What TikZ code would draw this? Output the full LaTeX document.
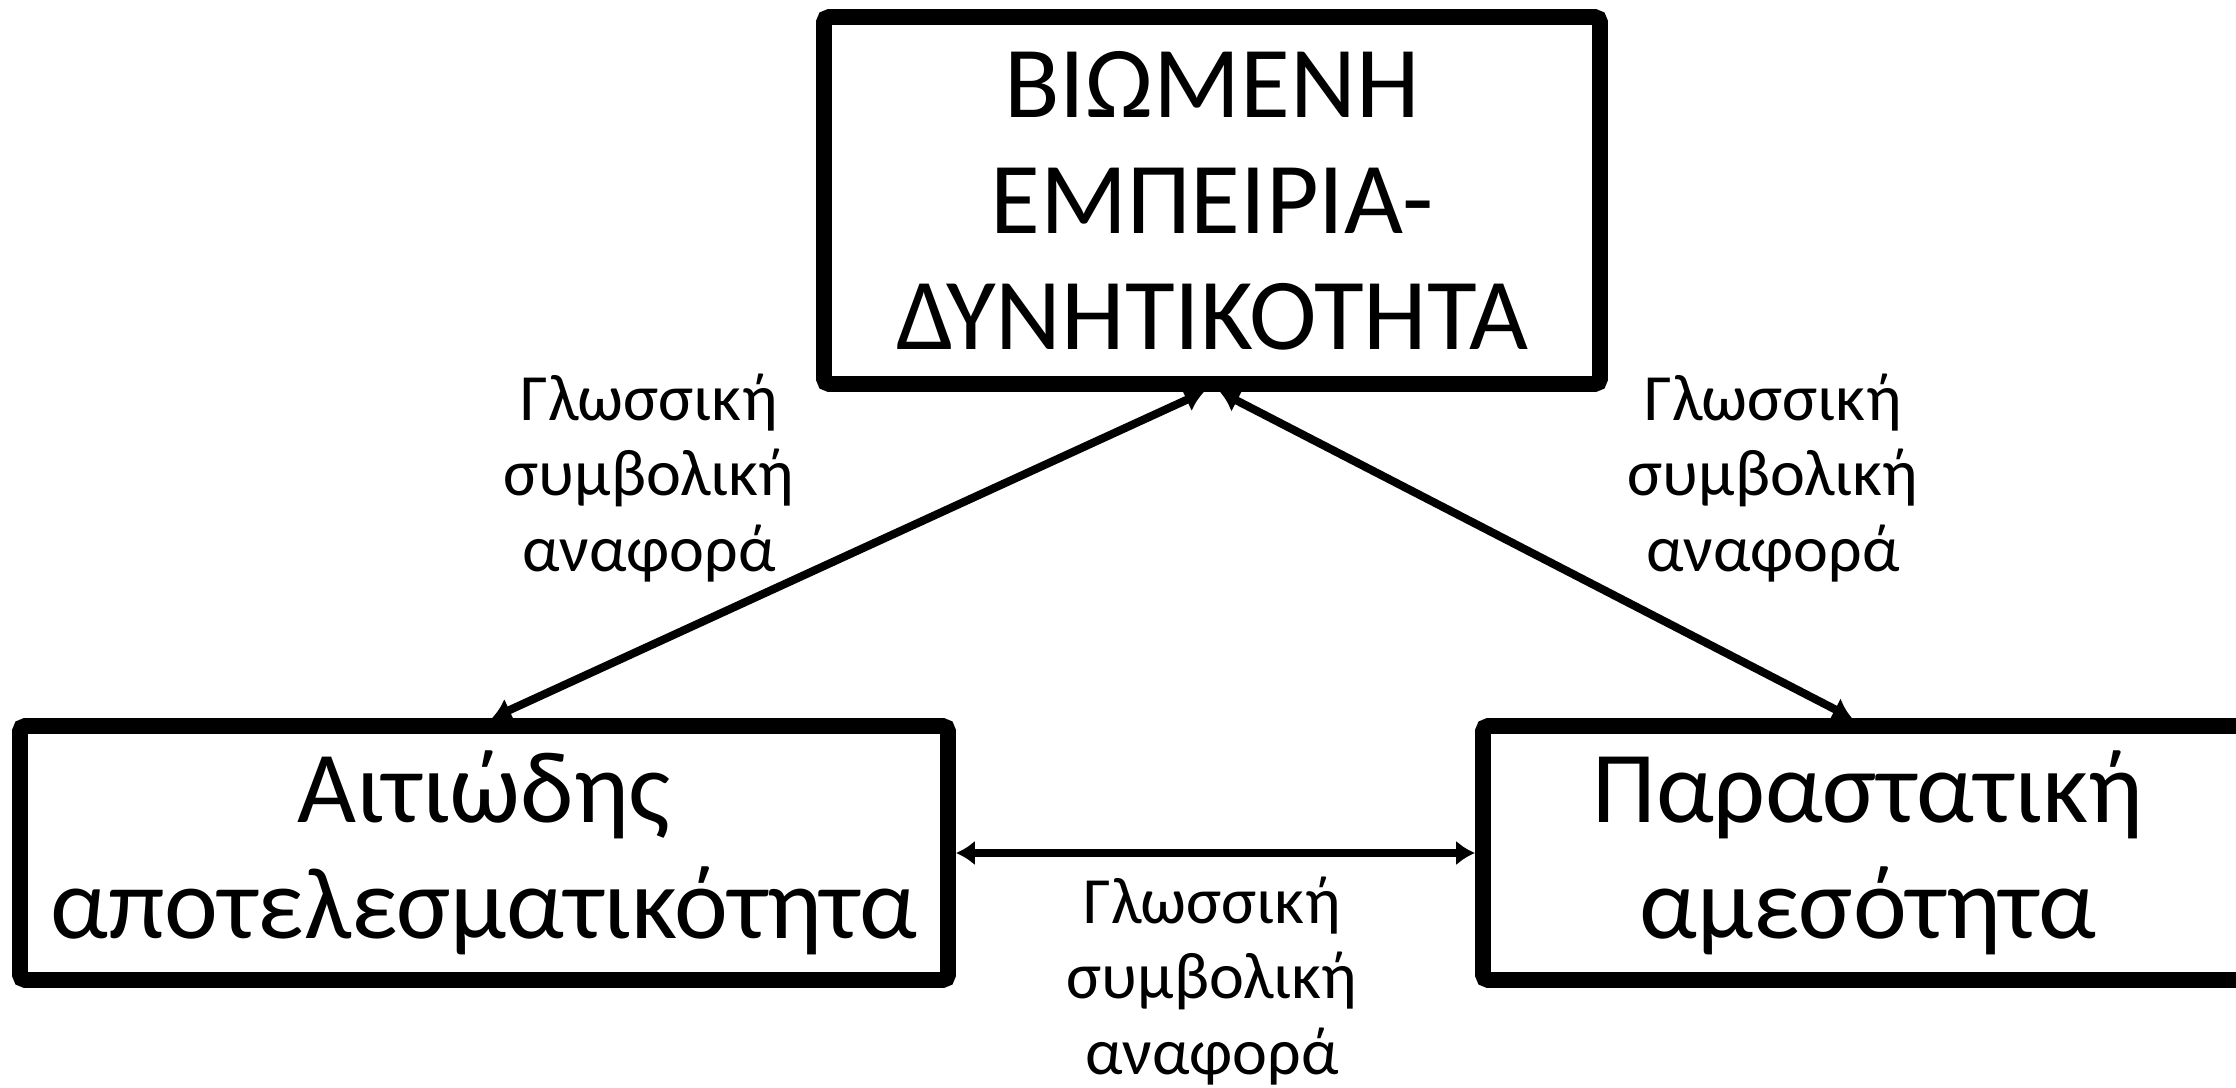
\documentclass[tikz,border=0pt]{standalone}
\usepackage{fontspec}
\setmainfont{Carlito}
\usetikzlibrary{positioning,arrows.meta}
\tikzset{
    concept/.style = {
        draw,
        shape=rectangle,
        line width=4.5pt,
        rounded corners=1.5pt,
        align=center,
        inner sep=0pt,
        font=\fontsize{29}{33}\selectfont
    },
    reference/.style = {
        align=center,
        inner sep=0pt,
        font=\fontsize{18.8}{21.6}\selectfont
    },
    link/.style = {
        draw,
        line width=2.3pt,
        <->
    },
    >={Latex[length=1.9mm,width=2.5mm]},
}

\begin{document}
\begin{tikzpicture}
            \useasboundingbox (0,0) rectangle (22.36,10.87);

            \node[concept, minimum width=7.76cm, minimum height=3.67cm] (lived) at (12.12,8.865) {ΒΙΩΜΕΝΗ\\ΕΜΠΕΙΡΙΑ-\\ΔΥΝΗΤΙΚΟΤΗΤΑ};
            \node[concept, minimum width=9.28cm, minimum height=2.54cm] (causal) at (4.84,2.34) {Αιτιώδης\\αποτελεσματικότητα};
            \node[concept, minimum width=7.70cm, minimum height=2.54cm] (present) at (18.68,2.34) {Παραστατική\\αμεσότητα};

            \path[link] ([xshift=0.08cm]causal.north) -- ([xshift=-0.08cm]lived.south);
            \path[link] ([xshift=-0.16cm]present.north) -- ([xshift=0.08cm]lived.south);
            \path[link] (causal.east) -- (present.west);

            \node[reference] (refleft) at (6.49,6.09) {Γλωσσική\\συμβολική\\αναφορά};
            \node[reference] (refright) at (17.73,6.09) {Γλωσσική\\συμβολική\\αναφορά};
            \node[reference] (refbottom) at (12.12,1.06) {Γλωσσική\\συμβολική\\αναφορά};

        \end{tikzpicture}
\end{document}
